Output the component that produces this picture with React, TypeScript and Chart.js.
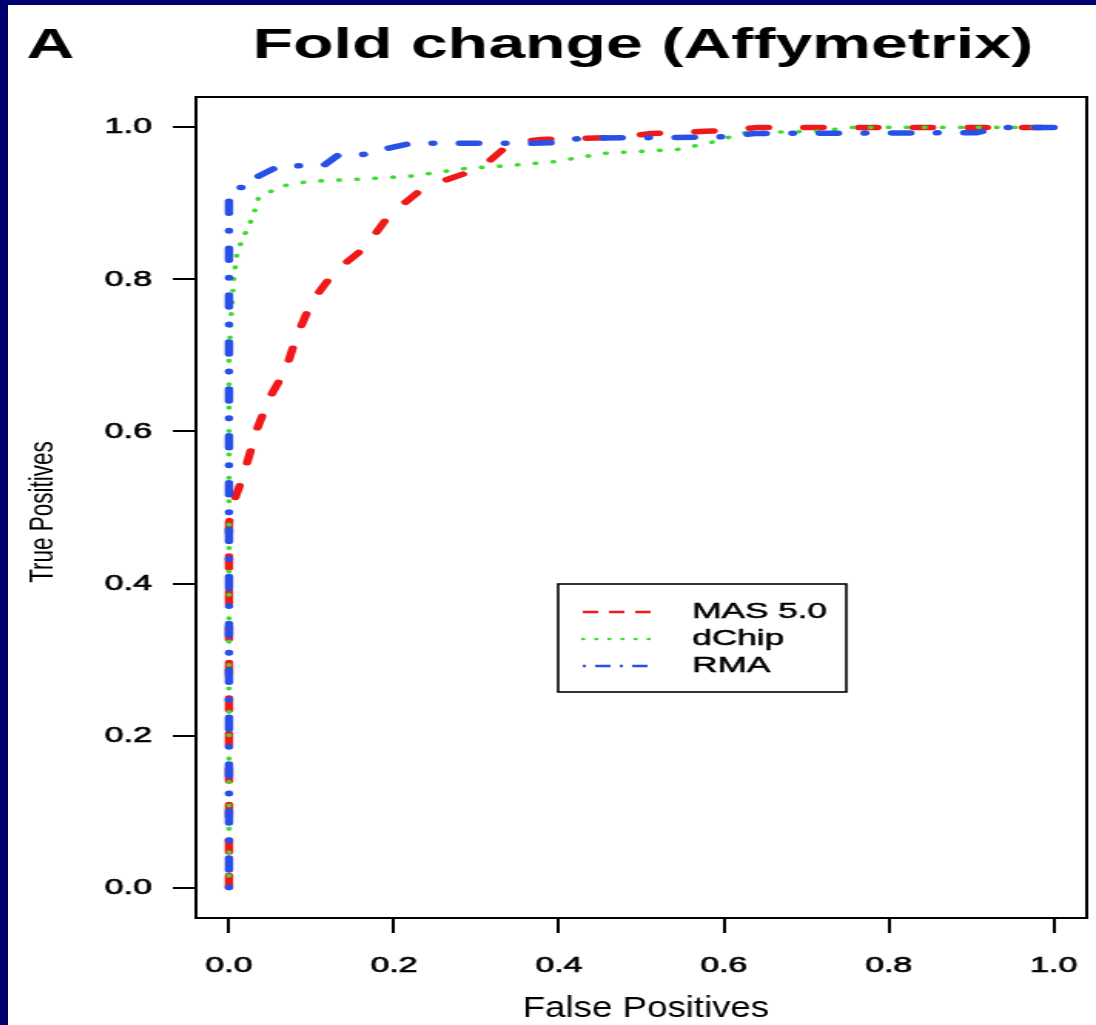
import React, { useEffect, useRef } from "react";
import { Chart, registerables } from "chart.js";

Chart.register(...registerables);

// ---------- text ----------
const PANEL_LABEL = "A";
const TITLE = "Fold change (Affymetrix)";
const X_TITLE = "False Positives";
const Y_TITLE = "True Positives";
const TICK_VALUES = [0, 0.2, 0.4, 0.6, 0.8, 1.0];
const TICK_LABELS = ["0.0", "0.2", "0.4", "0.6", "0.8", "1.0"];
const SERIES_NAMES = ["MAS 5.0", "dChip", "RMA"];

// ---------- data ----------
const MAS_FP = [0, 0, 0.004, 0.008, 0.015, 0.022, 0.034, 0.048, 0.069, 0.082, 0.1, 0.127, 0.166, 0.193, 0.233, 0.245, 0.29, 0.305, 0.342, 0.379, 0.472, 0.512, 0.54, 0.577, 0.605, 0.641, 1.0];
const MAS_TP = [0, 0.48, 0.5, 0.514, 0.535, 0.559, 0.603, 0.642, 0.682, 0.725, 0.77, 0.809, 0.843, 0.883, 0.918, 0.924, 0.941, 0.946, 0.98, 0.984, 0.987, 0.992, 0.993, 0.995, 0.996, 1.0, 1.0];

const DCHIP_FP = [0, 0, 0.003, 0.006, 0.01, 0.018, 0.024, 0.03, 0.036, 0.048, 0.06, 0.097, 0.161, 0.221, 0.287, 0.342, 0.395, 0.456, 0.544, 0.584, 0.625, 0.713, 0.756, 1.0];
const DCHIP_TP = [0, 0.7, 0.76, 0.804, 0.836, 0.857, 0.87, 0.886, 0.908, 0.914, 0.922, 0.929, 0.932, 0.936, 0.946, 0.95, 0.955, 0.966, 0.971, 0.98, 0.993, 0.995, 1.0, 1.0];

const RMA_FP = [0, 0, 0.005, 0.012, 0.022, 0.036, 0.06, 0.115, 0.133, 0.161, 0.19, 0.221, 0.366, 0.399, 0.426, 0.58, 0.605, 0.637, 0.907, 0.935, 1.0];
const RMA_TP = [0, 0.91, 0.914, 0.921, 0.921, 0.936, 0.949, 0.95, 0.964, 0.964, 0.972, 0.979, 0.979, 0.98, 0.986, 0.987, 0.988, 0.992, 0.993, 1.0, 1.0];

const COLORS = ["#f01818", "#3cdc2c", "#2850e6"];

// ---------- layout (canvas drawn narrow, stretched horizontally like the original) ----------
const CANVAS_W = 706;
const CANVAS_H = 1020;
const FONT = '"Liberation Sans", Arial, Helvetica, sans-serif';

const toPoints = (xs: number[], ys: number[]) => xs.map((x, i) => ({ x, y: ys[i] }));

const decorPlugin = {
  id: "decor",
  afterDatasetsDraw(chart: any) {
    const { ctx, chartArea } = chart;
    ctx.save();
    ctx.strokeStyle = "#000";
    ctx.lineWidth = 2;
    ctx.strokeRect(chartArea.left, chartArea.top, chartArea.right - chartArea.left, chartArea.bottom - chartArea.top);
    ctx.restore();
  },
  afterDraw(chart: any) {
    const { ctx } = chart;
    ctx.save();
    ctx.fillStyle = "#000";

    // panel label + title
    ctx.font = `bold 43px ${FONT}`;
    ctx.textBaseline = "alphabetic";
    ctx.textAlign = "left";
    ctx.fillText(PANEL_LABEL, 12, 53);
    ctx.textAlign = "center";
    ctx.fillText(TITLE, 412, 53);

    // x title (narrow face)
    ctx.save();
    ctx.font = `30px ${FONT}`;
    const w = ctx.measureText(X_TITLE).width;
    ctx.translate(414, 1012);
    ctx.scale(160 / w, 1);
    ctx.textAlign = "center";
    ctx.fillText(X_TITLE, 0, 0);
    ctx.restore();

    // y title
    ctx.save();
    ctx.font = `22.5px ${FONT}`;
    ctx.translate(23, 507);
    ctx.rotate(-Math.PI / 2);
    ctx.textAlign = "center";
    ctx.textBaseline = "middle";
    ctx.fillText(Y_TITLE, 0, 0);
    ctx.restore();

    // legend
    const bx = 357, by = 579, bw = 187, bh = 108;
    ctx.fillStyle = "#fff";
    ctx.fillRect(bx, by, bw, bh);
    ctx.strokeStyle = "#000";
    ctx.lineWidth = 1.6;
    ctx.strokeRect(bx, by, bw, bh);
    const rows = [607, 634, 661];
    const dashes = [[10, 7], [0.5, 8], [2, 6, 10, 6]];
    const caps = ["butt", "round", "butt"];
    for (let i = 0; i < 3; i++) {
      ctx.beginPath();
      ctx.strokeStyle = COLORS[i];
      ctx.lineWidth = 2.4;
      ctx.lineCap = caps[i];
      ctx.setLineDash(dashes[i]);
      ctx.moveTo(373, rows[i]);
      ctx.lineTo(417, rows[i]);
      ctx.stroke();
    }
    ctx.setLineDash([]);
    ctx.fillStyle = "#000";
    ctx.strokeStyle = "#000";
    ctx.lineWidth = 0.5;
    ctx.font = `22.8px ${FONT}`;
    ctx.textAlign = "left";
    ctx.textBaseline = "middle";
    for (let i = 0; i < 3; i++) {
      ctx.fillText(SERIES_NAMES[i], 444, rows[i]);
      ctx.strokeText(SERIES_NAMES[i], 444, rows[i]);
    }
    ctx.restore();
  },
};

const tickAxis = (tickPadding: number, size: number, isX: boolean) => ({
  type: "linear" as const,
  min: -0.04,
  max: 1.04,
  afterBuildTicks: (scale: any) => {
    scale.ticks = TICK_VALUES.map((v) => ({ value: v }));
  },
  afterFit: (scale: any) => {
    if (isX) scale.height = size;
    else scale.width = size;
    scale.paddingLeft = 0;
    scale.paddingRight = 0;
    scale.paddingTop = 0;
    scale.paddingBottom = 0;
  },
  ticks: {
    autoSkip: false,
    maxRotation: 0,
    minRotation: 0,
    padding: tickPadding,
    color: "#000",
    textStrokeColor: "#000",
    textStrokeWidth: 0.7,
    font: { family: FONT, size: 22 },
    callback: (v: any) => {
      const i = TICK_VALUES.indexOf(Number(v));
      return i >= 0 ? TICK_LABELS[i] : "";
    },
  },
  grid: {
    drawOnChartArea: false,
    drawTicks: true,
    tickLength: 15,
    lineWidth: 2,
    color: "#000",
  },
  border: { display: false },
});

export default function App() {
  const ref = useRef<HTMLCanvasElement | null>(null);

  useEffect(() => {
    if (!ref.current) return;
    const series = [
      { fp: MAS_FP, tp: MAS_TP, width: 5.5, dash: [12, 23.5], order: 3 },
      { fp: DCHIP_FP, tp: DCHIP_TP, width: 3.6, dash: [0.5, 11.2], order: 2 },
      { fp: RMA_FP, tp: RMA_TP, width: 5.5, dash: [0.5, 17.2, 12, 17.2], order: 1 },
    ];
    const chart = new Chart(ref.current, {
      type: "line",
      data: {
        datasets: series.map((s, i) => ({
          label: SERIES_NAMES[i],
          data: toPoints(s.fp, s.tp),
          borderColor: COLORS[i],
          backgroundColor: COLORS[i],
          borderWidth: s.width,
          borderDash: s.dash,
          borderCapStyle: "round",
          borderJoinStyle: "round",
          pointRadius: 0,
          tension: 0,
          fill: false,
          order: s.order,
        })),
      },
      options: {
        animation: false,
        responsive: false,
        maintainAspectRatio: false,
        devicePixelRatio: 1,
        layout: { padding: { top: 92, right: 6, left: 0, bottom: 0 } },
        plugins: {
          legend: { display: false },
          title: { display: false },
          tooltip: { enabled: false },
        },
        scales: {
          x: tickAxis(20, 107, true),
          y: tickAxis(13.6, 122, false),
        },
      },
      plugins: [decorPlugin],
    } as any);
    return () => chart.destroy();
  }, []);

  return (
    <div
      style={{
        position: "absolute",
        left: 0,
        top: 0,
        width: 1096,
        height: 1025,
        background: "#00006e",
        overflow: "hidden",
      }}
    >
      <canvas
        ref={ref}
        width={CANVAS_W}
        height={CANVAS_H}
        style={{
          position: "absolute",
          left: 8,
          top: 5,
          width: "1088px",
          height: "1020px",
          background: "#fff",
        }}
      />
    </div>
  );
}
